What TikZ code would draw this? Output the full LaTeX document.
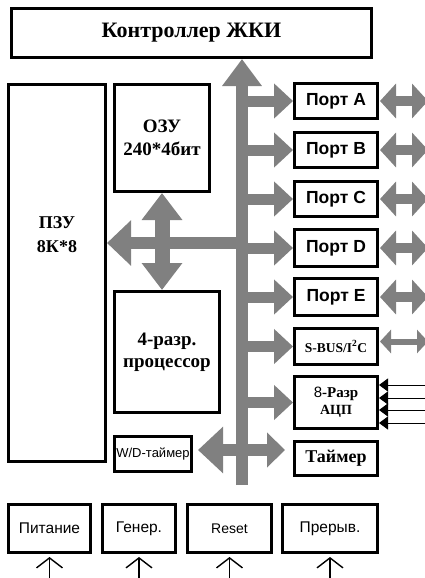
\documentclass[tikz,border=0pt]{standalone}
\usepackage{fontspec}
\setmainfont{Liberation Serif}
\setsansfont{Liberation Sans}
\usetikzlibrary{arrows.meta, calc}
\definecolor{busgray}{RGB}{128,128,128}

\tikzset{
    blk/.style={draw, line width=3pt, inner sep=0pt, align=center},
    port/.style={blk, minimum width=83pt, minimum height=35pt, font=\sffamily\bfseries\fontsize{17.5}{17.5}\selectfont},
    botbox/.style={blk, minimum height=48pt, font=\sffamily\fontsize{15.5}{15.5}\selectfont},
    trunk/.style={busgray, line width=12pt, -{Triangle[length=27pt,width=38pt]}},
    bus/.style={busgray, line width=11pt, -{Triangle[length=19pt,width=34pt]}},
    ext/.style={busgray, line width=10pt, {Triangle[length=16pt,width=34pt]}-{Triangle[length=16pt,width=34pt]}},
    extsmall/.style={busgray, line width=6pt, {Triangle[length=11pt,width=23pt]}-{Triangle[length=11pt,width=23pt]}},
    adcin/.style={line width=1pt, -{Triangle[length=9pt,width=13pt]}},
    pinin/.style={line width=1.4pt, -{Straight Barb[length=10pt,width=26pt]}}
}

\begin{document}
\begin{tikzpicture}[x=1pt, y=-1pt]
        \clip (0,0) rectangle (425,578);
        \fill[white] (0,0) rectangle (425,578);

        % Draw nodes
        \node[blk, minimum width=360pt, minimum height=49pt, font=\bfseries\fontsize{22}{22}\selectfont] (ctrl) at (191.5,33) {Контроллер ЖКИ};
        \node[blk, minimum width=97pt, minimum height=377pt] (rom) at (57,273) {};
        \node[font=\bfseries\fontsize{18}{24}\selectfont, align=center] (romtxt) at (57,235) {ПЗУ\\8К*8};
        \node[blk, minimum width=95pt, minimum height=107pt, font=\bfseries\fontsize{19}{23}\selectfont] (ram) at (162,138) {ОЗУ\\240*4бит};
        \node[blk, minimum width=105pt, minimum height=121pt, font=\bfseries\fontsize{19}{22}\selectfont] (cpu) at (167,352) {4-разр.\\процессор};
        \node[blk, minimum width=77pt, minimum height=35pt, font=\sffamily\fontsize{13}{13}\selectfont] (wd) at (153,454) {W/D-таймер};

        \node[port] (pA) at (336,101) {Порт A};
        \node[port] (pB) at (336,150) {Порт B};
        \node[port] (pC) at (336,199) {Порт C};
        \node[port, minimum height=37pt] (pD) at (336,248) {Порт D};
        \node[port, minimum height=37pt] (pE) at (336,297) {Порт E};
        \node[port, minimum height=36pt, font=\bfseries\fontsize{13.5}{13.5}\selectfont] (sbus) at (336,346.5) {S-BUS/I\textsuperscript{2}C};
        \node[port, minimum height=52pt, font=\bfseries\fontsize{15}{17}\selectfont] (adc) at (336,402.5) {{\sffamily\mdseries 8}-Разр\\{\fontsize{14}{14}\selectfont АЦП}};
        \node[port, minimum height=34pt, font=\bfseries\fontsize{18}{18}\selectfont] (tmr) at (336,458.5) {Таймер};

        \node[botbox, minimum width=82pt] (pwr) at (49.5,528.5) {Питание};
        \node[botbox, minimum width=73pt] (gen) at (139,528.5) {Генер.};
        \node[botbox, minimum width=84pt, font=\sffamily\fontsize{14}{14}\selectfont] (rst) at (229.5,528.5) {Reset};
        \node[botbox, minimum width=95pt] (irq) at (330,528.5) {\raisebox{3pt}{Прерыв.}};

        % Points on the bus
        \coordinate (busend) at (242,485);
        \coordinate (xc) at (242,243);
        \coordinate (wdt) at (242,450);
        \coordinate (edge) at (428,0);
        \coordinate (pinlow) at (0,578);

        % Draw connections
        \draw[trunk] (busend) -- (ctrl.south -| busend);
        \foreach \p in {pA, pB, pC, pD, pE, sbus, adc}
            \draw[bus] (busend |- \p.west) -- (\p.west);
        \draw[busgray, line width=12pt, {Triangle[length=24pt,width=44pt]}-] (rom.east |- xc) -- (xc);
        \draw[busgray, line width=15pt, {Triangle[length=27pt,width=39pt]}-{Triangle[length=27pt,width=39pt]}] (ram.south) -- (ram.south |- cpu.north);
        \draw[busgray, line width=12pt, {Triangle[length=25pt,width=45pt]}-{Triangle[length=18pt,width=34pt]}, shorten <=5pt, shorten >=8pt] (wd.east |- wdt) -- (tmr.west |- wdt);

        \foreach \p in {pA, pB, pC, pD, pE}
            \draw[ext, shorten <=1pt] (\p.east) -- (\p.east -| edge);
        \draw[extsmall, shorten <=1pt] ($(sbus.east)+(0,-5)$) -- ($(sbus.east -| edge)+(0,-5)$);

        \foreach \y in {385,398,410,423}
            \draw[adcin] (edge |- 0,\y) -- (adc.east |- 0,\y);

        \foreach \b in {pwr, gen, rst, irq}
            \draw[pinin] (\b.south |- pinlow) -- ($(\b.south)+(0,3)$);
    \end{tikzpicture}
\end{document}
